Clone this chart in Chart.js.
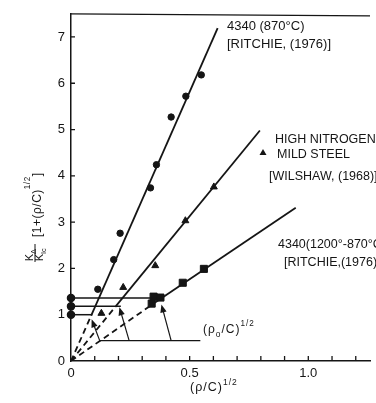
<!DOCTYPE html>
<html>
<head>
<meta charset="utf-8">
<script src="https://cdn.jsdelivr.net/npm/chart.js@4.4.1/dist/chart.umd.min.js"></script>
<style>
  html, body { margin: 0; padding: 0; background: #fff; }
  canvas { display: block; }
</style>
</head>
<body>
<canvas id="chart" width="376" height="403"></canvas>
<script>
"use strict";

// --- Data ---------------------------------------------------------------------

const xLabelTicks = [0, 0.5, 1.0];
const xMinorTicks = [0.1, 0.2, 0.3, 0.4, 0.5, 0.6, 0.7, 0.8, 0.9, 1.0, 1.1, 1.2];
const yTicks = [0, 1, 2, 3, 4, 5, 6, 7];

// 4340 (870°C) - Ritchie 1976 (circles)
const r870X = [0.113, 0.180, 0.207, 0.335, 0.360, 0.422, 0.484, 0.549];
const r870Y = [1.55, 2.19, 2.76, 3.74, 4.24, 5.27, 5.72, 6.18];

// high nitrogen mild steel - Wilshaw 1968 (triangles)
const wilX = [0.128, 0.220, 0.355, 0.482, 0.602];
const wilY = [1.03, 1.59, 2.06, 3.03, 3.76];

// 4340 (1200°-870°C) - Ritchie 1976 (squares)
const r1200X = [0.340, 0.348, 0.377, 0.471, 0.560];
const r1200Y = [1.24, 1.39, 1.37, 1.69, 1.99];

// fitted lines: origin, end of dashed part, end of solid part
const fit870X = [0, 0.085, 0.618];
const fit870Y = [0, 0.98, 7.19];
const fitWilX = [0, 0.19, 0.796];
const fitWilY = [0, 1.19, 4.98];
const fit1200X = [0, 0.345, 0.947];
const fit1200Y = [0, 1.23, 3.31];

// threshold levels marked on the y axis, and where each line stops
const levelY = [1.36, 1.18, 1.0];
const levelEndX = [0.36, 0.21, 0.09];

// (rho0/C)^1/2 arrows
const arrowBaseY = 0.44;
const arrowBaseX = [0.121, 0.545];
const arrowTailX = [0.121, 0.245, 0.422];
const arrowHeadX = [0.087, 0.204, 0.381];
const arrowHeadY = [0.90, 1.16, 1.22];

// --- Helpers ------------------------------------------------------------------

const INK = "#151515";
const FONT = "'Liberation Sans', 'DejaVu Sans', sans-serif";

const pts = (xs, ys) => xs.map((x, i) => ({ x, y: ys[i] }));

function lineSet(xs, ys, dashed) {
  return {
    data: pts(xs, ys), showLine: true, pointRadius: 0,
    borderColor: INK, borderWidth: 1.8, borderDash: dashed ? [6, 4] : [],
  };
}

function markerSet(xs, ys, style, r) {
  return {
    data: pts(xs, ys), showLine: false, pointStyle: style, pointRadius: r,
    backgroundColor: INK, borderColor: INK, borderWidth: 1,
  };
}

// draws text pieces: [text, "", "sub" or "sup"]
function drawRich(ctx, parts, x, y, size, supOff = 0.45) {
  let cx = x;
  parts.forEach(([t, kind]) => {
    let s = size, dy = 0;
    if (kind === "sub") { s = size * 0.7; dy = size * 0.3; }
    if (kind === "sup") { s = size * 0.68; dy = -size * supOff; }
    ctx.font = `${s}px ${FONT}`;
    ctx.fillText(t, cx, y + dy);
    cx += ctx.measureText(t).width;
  });
}

function arrow(ctx, x1, y1, x2, y2) {
  const a = Math.atan2(y2 - y1, x2 - x1);
  const L = 8, W = 3.2;
  ctx.beginPath();
  ctx.moveTo(x1, y1);
  ctx.lineTo(x2 - Math.cos(a) * L * 0.8, y2 - Math.sin(a) * L * 0.8);
  ctx.stroke();
  ctx.beginPath();
  ctx.moveTo(x2, y2);
  ctx.lineTo(x2 - Math.cos(a) * L - Math.sin(a) * W, y2 - Math.sin(a) * L + Math.cos(a) * W);
  ctx.lineTo(x2 - Math.cos(a) * L + Math.sin(a) * W, y2 - Math.sin(a) * L - Math.cos(a) * W);
  ctx.closePath();
  ctx.fill();
}

// --- Overlay: frame, inward ticks, arrows, labels -----------------------------

const overlay = {
  id: "overlay",
  afterDraw(chart) {
    const { ctx, chartArea: a, scales: { x, y } } = chart;
    ctx.save();
    ctx.strokeStyle = INK;
    ctx.fillStyle = INK;
    ctx.lineWidth = 1.3;

    ctx.beginPath();
    ctx.moveTo(a.left, a.top);
    ctx.lineTo(a.right, a.top + 2);
    xMinorTicks.forEach((v) => {
      const px = x.getPixelForValue(v);
      ctx.moveTo(px, a.bottom);
      ctx.lineTo(px, a.bottom - 5);
    });
    yTicks.slice(1).forEach((v) => {
      const py = y.getPixelForValue(v);
      ctx.moveTo(a.left, py);
      ctx.lineTo(a.left + 4, py);
    });
    ctx.stroke();

    // arrows
    ctx.lineWidth = 1.2;
    const by = y.getPixelForValue(arrowBaseY);
    ctx.beginPath();
    ctx.moveTo(x.getPixelForValue(arrowBaseX[0]), by);
    ctx.lineTo(x.getPixelForValue(arrowBaseX[1]), by);
    ctx.stroke();
    arrowTailX.forEach((tx, i) => {
      arrow(ctx, x.getPixelForValue(tx), by,
        x.getPixelForValue(arrowHeadX[i]), y.getPixelForValue(arrowHeadY[i]));
    });

    // annotations
    ctx.textBaseline = "alphabetic";
    ctx.textAlign = "left";
    ctx.font = `13px ${FONT}`;
    ctx.fillText("4340 (870°C)", 227, 30);
    ctx.fillText("[RITCHIE, (1976)]", 227, 48);
    ctx.font = `12.5px ${FONT}`;
    ctx.fillText("HIGH NITROGEN", 275, 143);
    ctx.fillText("MILD STEEL", 277, 158);
    ctx.fillText("[WILSHAW, (1968)]", 269, 180);
    ctx.fillText("4340(1200°-870°C)", 278, 248);
    ctx.fillText("[RITCHIE,(1976)]", 284, 266);
    ctx.beginPath();
    ctx.moveTo(263, 149); ctx.lineTo(266.5, 155); ctx.lineTo(259.5, 155);
    ctx.closePath(); ctx.fill();

    ctx.letterSpacing = "1px";
    drawRich(ctx, [["(ρ", ""], ["o", "sub"], ["/C)", ""], ["1/2", "sup"]], 203, 333, 12, 0.55);
    drawRich(ctx, [["(ρ/C)", ""], ["1/2", "sup"]], 190, 391, 12.5, 0.5);
    ctx.letterSpacing = "0px";

    // y axis title, rotated
    ctx.translate(34, 0);
    ctx.rotate(-Math.PI / 2);
    drawRich(ctx, [["K", ""], ["Δ", "sub"]], -261, -1.5, 10.5);
    drawRich(ctx, [["K", ""], ["Ic", "sub"]], -261, 9, 10.5);
    ctx.lineWidth = 1;
    ctx.beginPath(); ctx.moveTo(-262, 1); ctx.lineTo(-244, 1); ctx.stroke();
    ctx.letterSpacing = "0.5px";
    drawRich(ctx, [["[1+(ρ/C)", ""], ["1/2", "sup"], ["]", ""]], -237, 7, 12, 0.9);
    ctx.restore();
  },
};

// --- Chart --------------------------------------------------------------------

const datasets = [
  lineSet(fit870X.slice(0, 2), fit870Y.slice(0, 2), true),
  lineSet(fit870X.slice(1), fit870Y.slice(1), false),
  lineSet(fitWilX.slice(0, 2), fitWilY.slice(0, 2), true),
  lineSet(fitWilX.slice(1), fitWilY.slice(1), false),
  lineSet(fit1200X.slice(0, 2), fit1200Y.slice(0, 2), true),
  lineSet(fit1200X.slice(1), fit1200Y.slice(1), false),
  ...levelY.map((ly, i) => ({
    data: [{ x: 0, y: ly }, { x: levelEndX[i], y: ly }],
    showLine: true, pointRadius: [3.5, 0], pointStyle: "circle",
    backgroundColor: INK, borderColor: INK, borderWidth: 1.5, clip: false,
  })),
  markerSet(r870X, r870Y, "circle", 3.2),
  markerSet(wilX, wilY, "triangle", 4),
  markerSet(r1200X, r1200Y, "rect", 5),
];

const tickFont = { family: FONT, size: 13 };

new Chart(document.getElementById("chart"), {
  type: "scatter",
  data: { datasets },
  options: {
    responsive: false, animation: false, devicePixelRatio: 1,
    layout: { padding: { top: 5, right: 0, left: 0, bottom: 0 } },
    plugins: { legend: { display: false }, tooltip: { enabled: false } },
    scales: {
      x: {
        type: "linear", min: 0, max: 1.26,
        afterFit: (s) => { s.height = 42; },
        grid: { display: false, drawTicks: false },
        border: { display: true, color: INK, width: 1.5 },
        ticks: {
          stepSize: 0.5, autoSkip: false, maxRotation: 0, padding: 5,
          color: INK, font: tickFont,
          callback: (v) => {
            const hit = xLabelTicks.find((t) => Math.abs(t - v) < 1e-6);
            if (hit === undefined) return "";
            return hit === 0 ? "0" : hit.toFixed(1);
          },
        },
      },
      y: {
        type: "linear", min: 0, max: 7.5,
        afterFit: (s) => { s.width = 71; },
        grid: { display: false, drawTicks: false },
        border: { display: true, color: INK, width: 1.5 },
        ticks: {
          stepSize: 1, autoSkip: false, padding: 6, color: INK, font: tickFont,
          callback: (v) => (yTicks.includes(v) ? String(v) : ""),
        },
      },
    },
  },
  plugins: [overlay],
});
</script>
</body>
</html>
